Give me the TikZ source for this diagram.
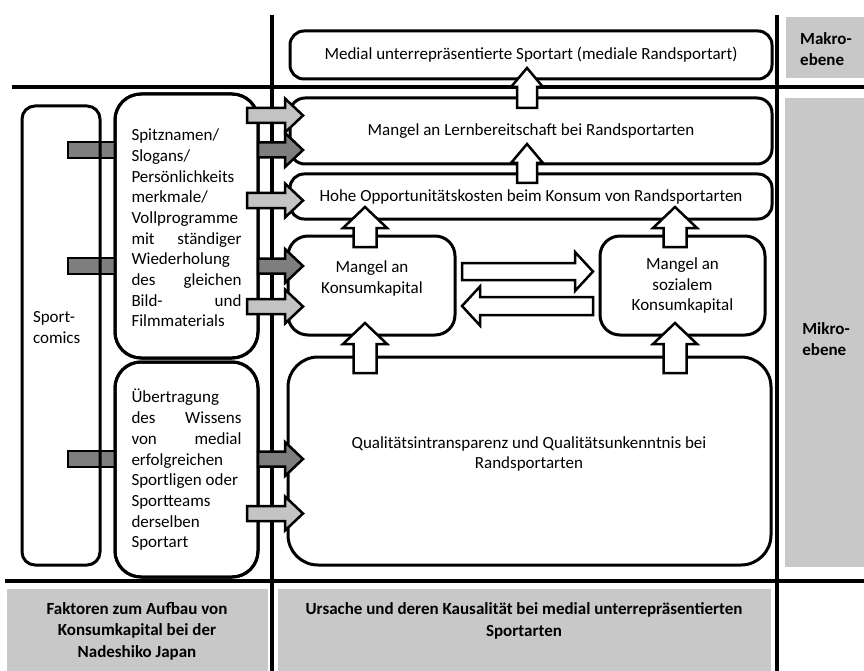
\documentclass[tikz,border=0pt]{standalone}
\usepackage{fontspec}
\setmainfont{Carlito}
\usetikzlibrary{calc}
\definecolor{panelgrey}{RGB}{200,200,200}
\definecolor{lgrey}{RGB}{196,196,196}
\definecolor{dgrey}{RGB}{126,126,126}
\newcommand\blockarrow[6]{%
  \coordinate (bac) at ($(#3)!#6!(#2)$);
  \draw[#1] ($(#2)!#4!-90:(#3)$) -- ($(bac)!#4!-90:(#3)$) -- ($(bac)!#5!-90:(#3)$) -- (#3)
    -- ($(bac)!#5!90:(#3)$) -- ($(bac)!#4!90:(#3)$) -- ($(#2)!#4!90:(#3)$) -- cycle;}
\newcommand\bararrow[3]{\draw[#1] ($(#2)+(0,-8)$) rectangle ($(#3)+(0,8)$);}
\begin{document}
\begin{tikzpicture}[x=1pt,y=-1pt,
  every node/.style={font=\fontsize{17}{20.7}\selectfont, inner sep=0pt, outer sep=0pt},
  box/.style={draw, line width=3pt, rounded corners=#1, fill=white, align=center},
  box/.default=16pt,
  mainline/.style={line width=4pt},
  lbl/.style={font=\bfseries\fontsize{17}{21.5}\selectfont, align=center},
  rlight/.style={draw, line width=2.5pt, fill=lgrey, line join=miter},
  rdark/.style={draw, line width=2.5pt, fill=dgrey, line join=miter},
  upw/.style={draw, line width=2.5pt, fill=white, line join=miter}
]
\useasboundingbox (0,0) rectangle (864,671);
% grey panels
\fill[panelgrey] (786,17) rectangle (864,78);
\fill[panelgrey] (785,98) rectangle (864,567);
\fill[panelgrey] (7,589) rectangle (268,671);
\fill[panelgrey] (278,589) rectangle (771,671);
\node[lbl, align=left] (makro) at (826,49) {Makro-\\ebene};
\node[lbl, align=left] (mikro) at (826,339) {Mikro-\\ebene};
\node[lbl] (faktoren) at (137,631) {Faktoren zum Aufbau von\\Konsumkapital bei der\\Nadeshiko Japan};
\node[lbl] (ursache) at (524,621) {Ursache und deren Kausalität bei medial unterrepräsentierten\\Sportarten};
% main lines
\draw[mainline] (12,87) -- (864,87);
\draw[mainline] (5,581) -- (864,581);
\draw[mainline] (272,15) -- (272,671);
\draw[mainline] (777,15) -- (777,671);
% right column boxes
\node[box=14pt, minimum width=482pt, minimum height=48pt] (medial) at (531,55)
  {Medial unterrepräsentierte Sportart (mediale Randsportart)};
\node[box=15pt, minimum width=482pt, minimum height=66pt] (lern) at (531,131)
  {Mangel an Lernbereitschaft bei Randsportarten};
\node[box=14pt, minimum width=482pt, minimum height=45pt] (opp) at (531,196.5)
  {Hohe Opportunitätskosten beim Konsum von Randsportarten};
\node[box=20pt, minimum width=167pt, minimum height=99pt] (konsum) at (371.5,285.5) {};
\node[align=center] (konsumtxt) at (372,278.5) {Mangel an\\Konsumkapital};
\node[box=20pt, minimum width=165pt, minimum height=99pt] (sozial) at (682.5,285.5)
  {Mangel an\\sozialem\\Konsumkapital};
\node[box=30pt, minimum width=483pt, minimum height=208pt] (qual) at (529.5,461) {};
\node[align=center] (qualtxt) at (529,454) {Qualitätsintransparenz und Qualitätsunkenntnis bei\\Randsportarten};
% left column
\coordinate (sca) at (22,106);
\coordinate (scb) at (100,565);
\node[minimum width=78pt, minimum height=459pt] (sc) at (61,335.5) {};
\coordinate (b1a) at ($(sc.west)+(46,-185.5)$);
\coordinate (b2a) at ($(sc.west)+(46,-69.5)$);
\coordinate (b3a) at ($(sc.west)+(46,123.5)$);
\node[box=26pt, minimum width=143pt, minimum height=264pt] (spitz) at (186.5,226) {};
\node[box=26pt, minimum width=143pt, minimum height=215pt] (uebert) at (186.5,469.5) {};
\coordinate (b1b) at ($(spitz.west)+(0,-76)$);
\coordinate (b2b) at ($(spitz.west)+(0,40)$);
\coordinate (b3b) at ($(uebert.west)+(0,-10.5)$);
\bararrow{rdark}{b1a}{b1b}
\bararrow{rdark}{b2a}{b2b}
\bararrow{rdark}{b3a}{b3b}
\draw[line width=3pt, rounded corners=13pt] (sc.north west) rectangle (sc.south east);
\draw[line width=3pt, rounded corners=26pt] (spitz.north west) rectangle (spitz.south east);
\draw[line width=3pt, rounded corners=26pt] (uebert.north west) rectangle (uebert.south east);
\node[align=left, anchor=west] (sctxt) at (33,327.5) {Sport-\\comics};
\node[align=left] (spitztxt) at (186.5,228) {Spitznamen/\\Slogans/\\Persönlichkeits\\merkmale/\\Vollprogramme\\\makebox[110pt][s]{mit ständiger}\\Wiederholung\\\makebox[110pt][s]{des gleichen}\\\makebox[110pt][s]{Bild- und}\\Filmmaterials};
\node[align=left] (uebtxt) at (186.5,470) {Übertragung\\\makebox[110pt][s]{des Wissens}\\\makebox[110pt][s]{von medial}\\erfolgreichen\\\mbox{Sportligen oder}\\Sportteams\\derselben\\Sportart};
% right-pointing arrows from left column
\coordinate (r1a) at ($(spitz.east)+(-11,-110.5)$);
\coordinate (r1b) at ($(lern.west)+(13,-15.5)$);
\coordinate (d2a) at ($(spitz.east)+(0,-76)$);
\coordinate (d2b) at ($(lern.west)+(13,19)$);
\coordinate (r3a) at ($(spitz.east)+(-11,-25.5)$);
\coordinate (r3b) at ($(opp.west)+(13,4)$);
\coordinate (d4a) at ($(spitz.east)+(0,40)$);
\coordinate (d4b) at ($(konsum.west)+(15,-19.5)$);
\coordinate (r5a) at ($(spitz.east)+(-11,80.5)$);
\coordinate (r5b) at ($(konsum.west)+(15,21)$);
\coordinate (d6a) at ($(uebert.east)+(0,-10.5)$);
\coordinate (d6b) at ($(qual.west)+(15,-2)$);
\coordinate (r7a) at ($(uebert.east)+(-11,44)$);
\coordinate (r7b) at ($(qual.west)+(15,52.5)$);
\blockarrow{rlight}{r1a}{r1b}{7.5pt}{17pt}{18pt}
\blockarrow{rdark}{d2a}{d2b}{7.5pt}{17pt}{18pt}
\blockarrow{rlight}{r3a}{r3b}{7.5pt}{17pt}{18pt}
\blockarrow{rdark}{d4a}{d4b}{7.5pt}{17pt}{18pt}
\blockarrow{rlight}{r5a}{r5b}{7.5pt}{17pt}{18pt}
\blockarrow{rdark}{d6a}{d6b}{7.5pt}{17pt}{18pt}
\blockarrow{rlight}{r7a}{r7b}{7.5pt}{17pt}{18pt}
% upward arrows
\coordinate (u1a) at ($(lern.north)+(-4,10)$);
\coordinate (u1b) at ($(medial.south)+(-4,-11)$);
\coordinate (u2a) at ($(opp.north)+(-4,9)$);
\coordinate (u2b) at ($(lern.south)+(-4,-20)$);
\coordinate (u3a) at ($(konsum.north)+(-6.5,11)$);
\coordinate (u3b) at ($(opp.south -| konsum.north)+(-6.5,-12)$);
\coordinate (u4a) at ($(sozial.north)+(-7.5,11)$);
\coordinate (u4b) at ($(opp.south -| sozial.north)+(-7.5,-12)$);
\coordinate (u5a) at ($(qual.north -| konsum.south)+(-6.5,16)$);
\coordinate (u5b) at ($(konsum.south)+(-6.5,-12)$);
\coordinate (u6a) at ($(qual.north -| sozial.south)+(-7.5,16)$);
\coordinate (u6b) at ($(sozial.south)+(-7.5,-12)$);
\blockarrow{upw}{u1a}{u1b}{10pt}{16pt}{19pt}
\blockarrow{upw}{u2a}{u2b}{10pt}{16pt}{19pt}
\blockarrow{upw}{u3a}{u3b}{11.5pt}{22pt}{21pt}
\blockarrow{upw}{u4a}{u4b}{11.5pt}{22pt}{21pt}
\blockarrow{upw}{u5a}{u5b}{11.5pt}{22pt}{21pt}
\blockarrow{upw}{u6a}{u6b}{11.5pt}{22pt}{21pt}
% horizontal arrows between Konsumkapital boxes
\coordinate (h1a) at ($(konsum.east)+(7,-14)$);
\coordinate (h1b) at ($(sozial.west)+(-7,-14)$);
\coordinate (h2a) at ($(sozial.west)+(-7,20.5)$);
\coordinate (h2b) at ($(konsum.east)+(7,20.5)$);
\blockarrow{upw}{h1a}{h1b}{8.5pt}{19.5pt}{18pt}
\blockarrow{upw}{h2a}{h2b}{9pt}{19.5pt}{18pt}
\end{tikzpicture}
\end{document}
